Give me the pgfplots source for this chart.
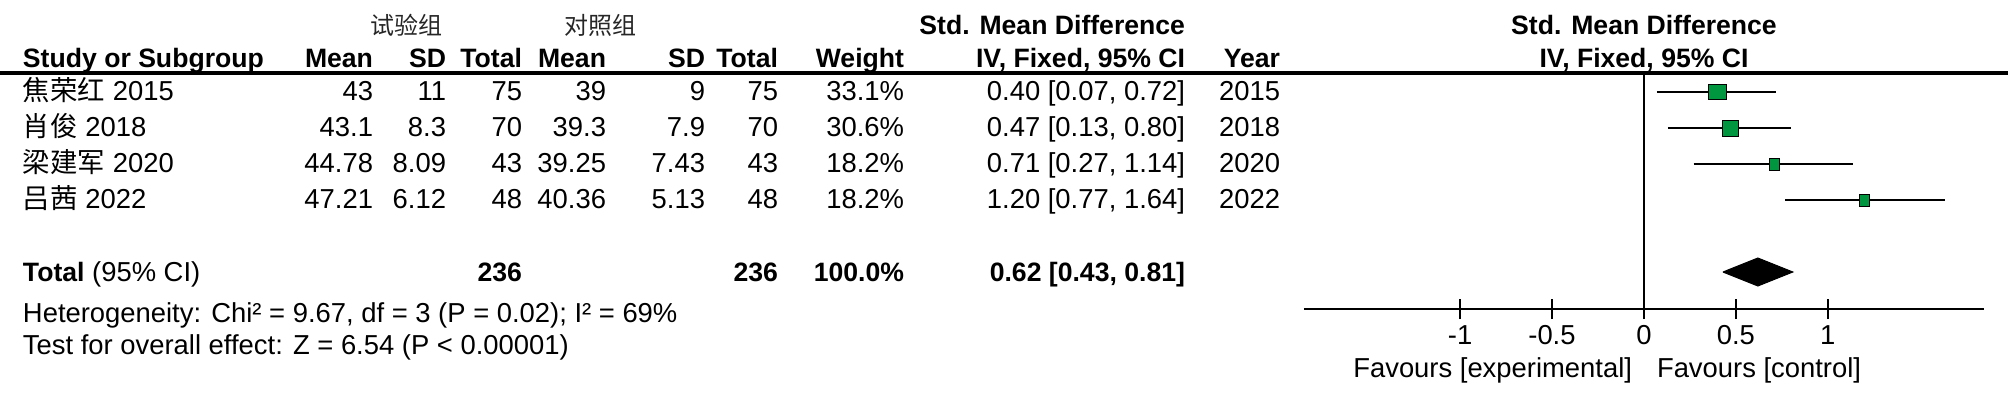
\documentclass[border=0pt]{standalone}
\usepackage{fontspec}
\setmainfont{Liberation Sans}
\newfontfamily\cjk{Noto Sans CJK SC}
\usepackage{pgfplots}
\pgfplotsset{compat=1.18}
\definecolor{rmgreen}{RGB}{0,150,64}
\newcommand{\fs}{\fontsize{13.7}{16}\selectfont}
\newcommand{\fb}{\fontsize{13.3}{16}\selectfont\bfseries}
\newcommand{\tR}[3]{\node[anchor=base east] at (#1,#2) {#3};}
\newcommand{\tL}[3]{\node[anchor=base west] at (#1,#2) {#3};}
\newcommand{\tC}[3]{\node[anchor=base] at (#1,#2) {#3};}
\begin{document}
\begin{tikzpicture}
\begin{scope}[x=0.5pt,y=0.5pt,every node/.style={inner sep=0pt,outer sep=0pt,font=\fs}]
\useasboundingbox (0,0) rectangle (2008,398);
\coordinate (AX) at (1303.8,89);
\begin{scope}[shift={(0,398)},yscale=-1]
% header line 1
\tC{406}{34}{\cjk\fontsize{12}{14}\selectfont\color{black!85}试验组}
\tC{600}{34}{\cjk\fontsize{12}{14}\selectfont\color{black!85}对照组}
\tR{1185}{34}{\fb Std. Mean Difference}
\tC{1644}{34}{\fb Std. Mean Difference}
% header line 2
\tL{23}{67}{\fb Study or Subgroup}
\tR{373}{67}{\fb Mean}
\tR{446}{67}{\fb SD}
\tR{522}{67}{\fb Total}
\tR{606}{67}{\fb Mean}
\tR{705}{67}{\fb SD}
\tR{778}{67}{\fb Total}
\tR{904}{67}{\fb Weight}
\tR{1185}{67}{\fb IV, Fixed, 95\% CI}
\tR{1280}{67}{\fb Year}
\tC{1644}{67}{\fb IV, Fixed, 95\% CI}
\draw[line width=1.65pt] (0,73) -- (2008,73);
% rows
\tL{23}{100}{{\cjk 焦荣红} 2015}
\tR{373}{100}{43}\tR{446}{100}{11}\tR{522}{100}{75}
\tR{606}{100}{39}\tR{705}{100}{9}\tR{778}{100}{75}
\tR{904}{100}{33.1\%}\tR{1185}{100}{0.40 [0.07, 0.72]}\tR{1280}{100}{2015}
\tL{23}{136}{{\cjk 肖俊} 2018}
\tR{373}{136}{43.1}\tR{446}{136}{8.3}\tR{522}{136}{70}
\tR{606}{136}{39.3}\tR{705}{136}{7.9}\tR{778}{136}{70}
\tR{904}{136}{30.6\%}\tR{1185}{136}{0.47 [0.13, 0.80]}\tR{1280}{136}{2018}
\tL{23}{172}{{\cjk 梁建军} 2020}
\tR{373}{172}{44.78}\tR{446}{172}{8.09}\tR{522}{172}{43}
\tR{606}{172}{39.25}\tR{705}{172}{7.43}\tR{778}{172}{43}
\tR{904}{172}{18.2\%}\tR{1185}{172}{0.71 [0.27, 1.14]}\tR{1280}{172}{2020}
\tL{23}{208}{{\cjk 吕茜} 2022}
\tR{373}{208}{47.21}\tR{446}{208}{6.12}\tR{522}{208}{48}
\tR{606}{208}{40.36}\tR{705}{208}{5.13}\tR{778}{208}{48}
\tR{904}{208}{18.2\%}\tR{1185}{208}{1.20 [0.77, 1.64]}\tR{1280}{208}{2022}
% total
\tL{23}{281}{{\fb Total} (95\% CI)}
\tR{522}{281}{\fb 236}
\tR{778}{281}{\fb 236}
\tR{904}{281}{\fb 100.0\%}
\tR{1185}{281}{\fb 0.62 [0.43, 0.81]}
\tL{23}{322}{Heterogeneity: Chi² = 9.67, df = 3 (P = 0.02); I² = 69\%}
\tL{23}{354}{Test for overall effect: Z = 6.54 (P < 0.00001)}
% favours
\tR{1632}{377}{Favours [experimental]}
\tL{1657}{377}{Favours [control]}
\end{scope}
\end{scope}
\begin{axis}[at={(AX)}, anchor=south west, scale only axis,
  width=340.1pt, height=118pt,
  xmin=-1.85, xmax=1.85, ymin=-309, ymax=-73,
  axis x line*=bottom, axis y line=none,
  axis line style={line width=1pt,-},
  xtick={-1,-0.5,0,0.5,1}, xticklabels={-1,-0.5,0,0.5,1},
  tick align=center, major tick length=10pt,
  tick style={line width=1pt,black},
  xticklabel style={anchor=base,yshift=-12.5pt,inner sep=0pt,font=\fs},
  ytick=\empty, clip=false]
\addplot[black,line width=1pt] coordinates {(0,-73) (0,-309)};
\addplot[black,line width=1pt] coordinates {(0.07,-92) (0.72,-92)};
\addplot[black,line width=1pt] coordinates {(0.13,-128) (0.80,-128)};
\addplot[black,line width=1pt] coordinates {(0.27,-164) (1.14,-164)};
\addplot[black,line width=1pt] coordinates {(0.77,-200) (1.64,-200)};
\addplot[only marks,mark=square*,mark size=4.5pt,mark options={fill=rmgreen,draw=none,yscale=0.833}] coordinates {(0.40,-92)};
\addplot[only marks,mark=square*,mark size=4pt,mark options={fill=rmgreen,draw=none}] coordinates {(0.47,-128)};
\addplot[only marks,mark=square*,mark size=2.5pt,mark options={fill=rmgreen,draw=none,yscale=1.2}] coordinates {(0.71,-164)};
\addplot[only marks,mark=square*,mark size=2.5pt,mark options={fill=rmgreen,draw=none,yscale=1.2}] coordinates {(1.20,-200)};
\addplot[fill=black,draw=black,line width=0.5pt] coordinates {(0.43,-272) (0.62,-258) (0.81,-272) (0.62,-286) (0.43,-272)};
\end{axis}
\end{tikzpicture}
\end{document}
